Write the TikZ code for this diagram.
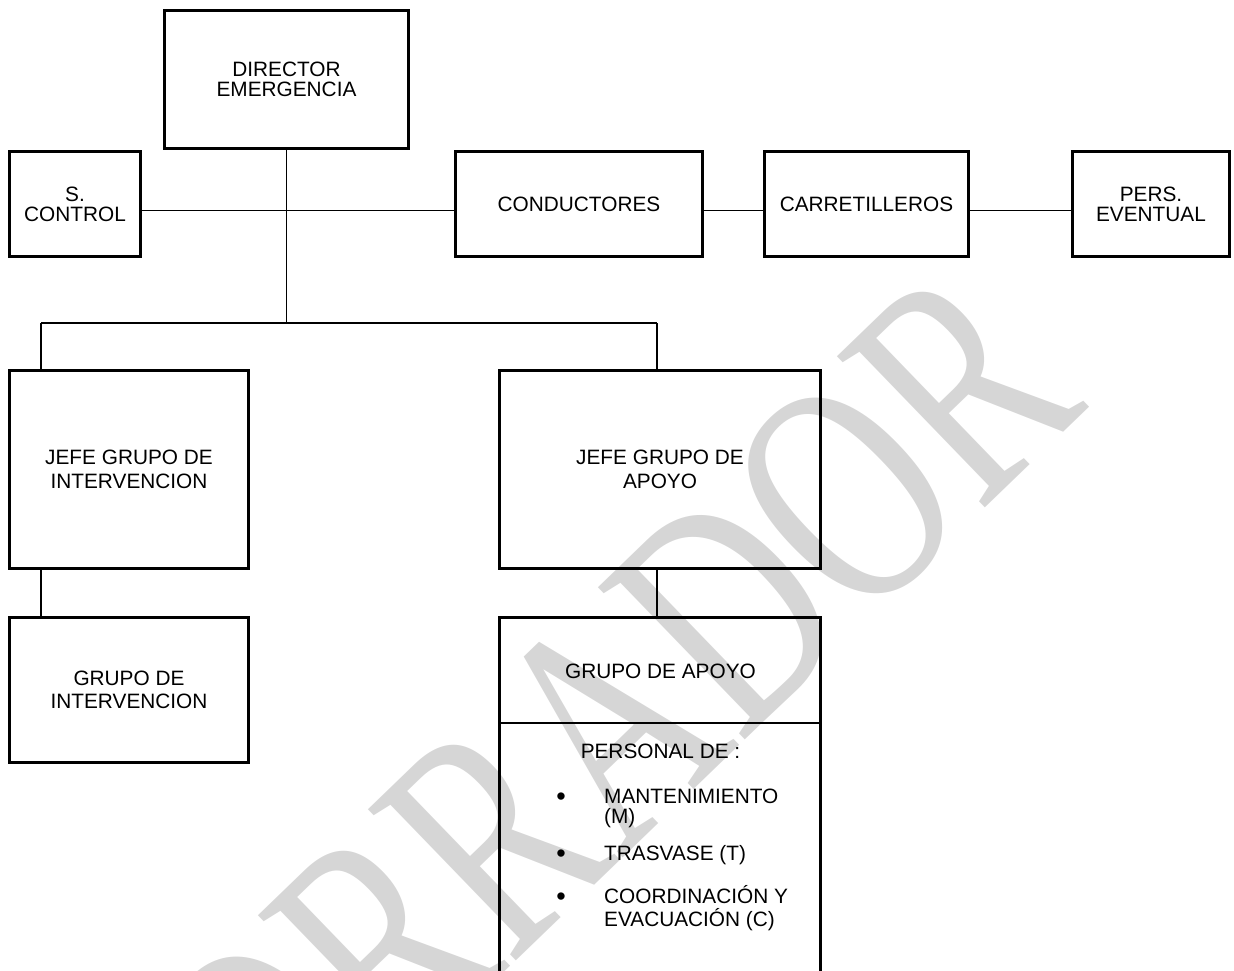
\documentclass[tikz,border=0pt]{standalone}
\usepackage{graphicx}
\usepackage{fontspec}
\setmainfont{Liberation Sans}
\newfontfamily\wmfont{Liberation Serif}
\definecolor{wm}{RGB}{214,214,214}
\begin{document}
\begin{tikzpicture}[x=1pt,y=-1pt,
  box/.style={draw,line width=3pt,inner sep=0pt,align=center,
    font=\fontsize{20.8}{20}\selectfont},
  tallbox/.style={box,font=\fontsize{20.8}{23.5}\selectfont},
  link/.style={line width=1.4pt},
  txt/.style={inner sep=0pt,font=\fontsize{20.8}{20}\selectfont},
  bullet/.style={inner sep=0pt,anchor=base,font=\fontsize{27}{20}\selectfont}]
\useasboundingbox (0,0) rectangle (1234,971);
\clip (0,0) rectangle (1234,971);
% watermark
\node[rotate=44,anchor=base east,inner sep=0pt,text=wm,
  font=\wmfont\fontsize{323}{323}\selectfont] (wm) at (1090,407) {\scalebox{0.712}[1]{BORRADOR}};
% boxes
\node[box,minimum width=244pt,minimum height=138pt] (dir) at (286.5,79.5) {DIRECTOR\\EMERGENCIA};
\node[box,minimum width=131pt,minimum height=105pt] (sc) at (75,204) {S.\\CONTROL};
\node[box,minimum width=247pt,minimum height=105pt] (cond) at (579,204) {CONDUCTORES};
\node[box,minimum width=204pt,minimum height=105pt] (carr) at (866.5,204) {CARRETILLEROS};
\node[box,minimum width=157pt,minimum height=105pt] (pers) at (1151,204) {PERS.\\EVENTUAL};
\node[tallbox,minimum width=239pt,minimum height=198pt] (jgi) at (129,469.5) {JEFE GRUPO DE\\INTERVENCION};
\node[tallbox,minimum width=321pt,minimum height=198pt] (jga) at (660,469.5) {JEFE GRUPO DE\\APOYO};
\node[tallbox,minimum width=239pt,minimum height=145pt] (gi) at (129,690) {GRUPO DE\\INTERVENCION};
% open box grupo de apoyo
\coordinate (gaTL) at (499.5,617.5);
\coordinate (gaTR) at (820.5,617.5);
\draw[line width=3pt] (499.5,985) -- (gaTL) -- (gaTR) -- (820.5,985);
\draw[link] (499.5,723) -- (820.5,723);
\node[txt,anchor=base] (ga1) at (660.5,678) {GRUPO DE APOYO};
\node[txt,anchor=base] (ga2) at (660.5,758) {PERSONAL DE :};
\node[bullet] (b1) at (561,805) {•};
\node[txt,anchor=base west] (m1) at (604,803) {MANTENIMIENTO};
\node[txt,anchor=base west] (m2) at (604,823) {(M)};
\node[bullet] (b2) at (561,862) {•};
\node[txt,anchor=base west] (t1) at (604,860) {TRASVASE (T)};
\node[bullet] (b3) at (561,905) {•};
\node[txt,anchor=base west] (c1) at (604,903) {COORDINACIÓN Y};
\node[txt,anchor=base west] (c2) at (604,926) {EVACUACIÓN (C)};
% connectors
\coordinate (busM) at (286.5,323);
\coordinate (busL) at (41,323);
\coordinate (busR) at (657,323);
\coordinate (lineY) at (0,210.5);
\draw[link] (dir.south) -- (busM);
\draw[link] (busL) -- (busR);
\draw[link] (busL) -- (busL |- jgi.north);
\draw[link] (busR) -- (busR |- jga.north);
\draw[link] (sc.east |- lineY) -- (cond.west |- lineY);
\draw[link] (cond.east |- lineY) -- (carr.west |- lineY);
\draw[link] (carr.east |- lineY) -- (pers.west |- lineY);
\draw[link] (jgi.south -| busL) -- (gi.north -| busL);
\draw[link] (jga.south -| busR) -- (gaTL -| busR);
\end{tikzpicture}
\end{document}
